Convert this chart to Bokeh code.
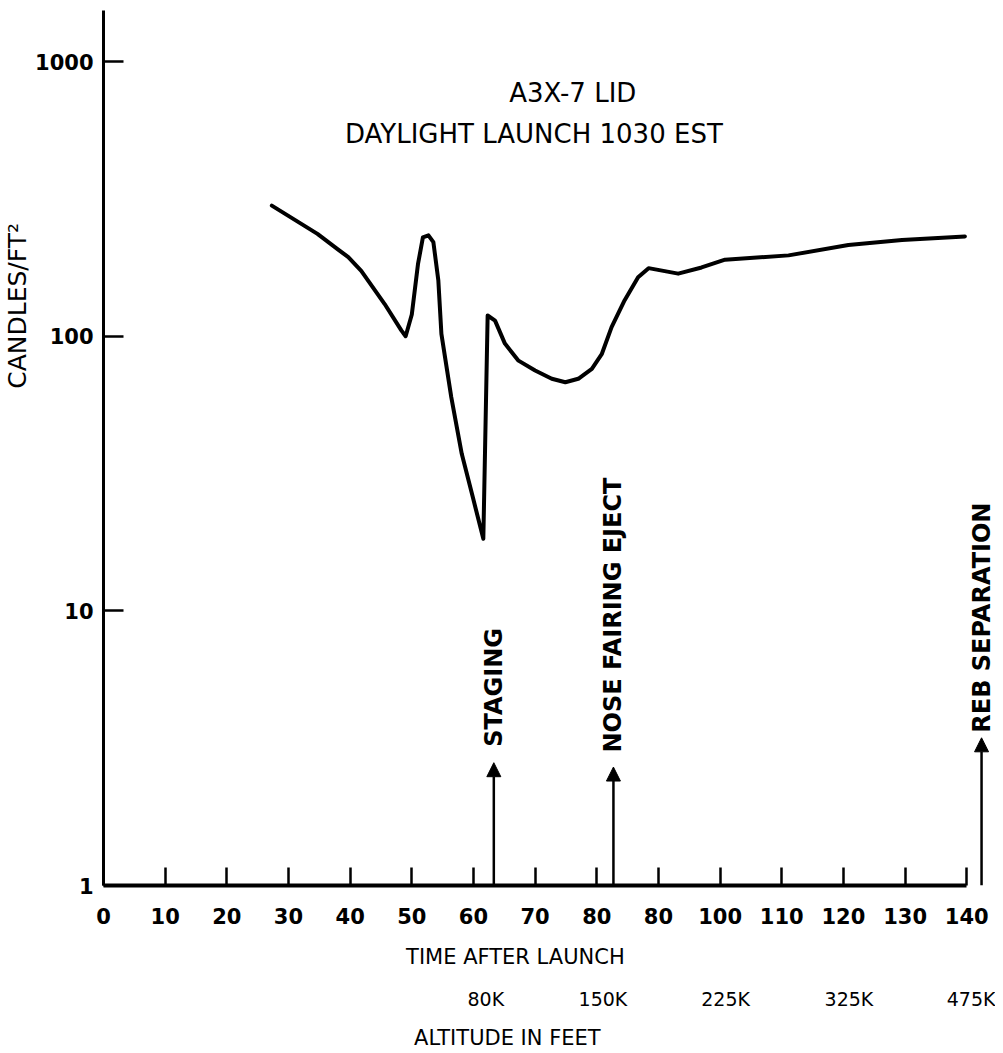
import math
from bokeh.plotting import figure
from bokeh.models import (LinearAxis, LogAxis, FixedTicker, Range1d, Arrow, NormalHead,
                          ColumnDataSource, BasicTickFormatter)
from bokeh.core.properties import value
from bokeh.embed import file_html
from bokeh.resources import INLINE

# ---- data ----
time_s = [27.3, 34.7, 37.9, 39.7, 41.8, 45.6, 48.3, 49.0, 50.0, 51.0, 51.8, 52.7, 53.5,
          54.3, 54.8, 56.4, 58.1, 59.9, 61.6, 62.3, 63.5, 65.1, 67.3, 70.0, 72.7, 74.9,
          77.0, 79.2, 80.8, 82.4, 84.5, 86.7, 88.4, 93.2, 97.0, 100.8, 111.1, 120.8,
          129.5, 139.7]
candles = [299, 236, 208, 194, 173, 131, 105, 100, 120, 183, 229, 233, 220,
           160, 102, 60, 37.3, 25.9, 18.3, 119, 114, 94, 81.5, 75, 70, 68,
           70, 76, 86, 108, 135, 164, 177, 169, 178, 190, 197, 215,
           224, 231]

x_ticks = [0, 10, 20, 30, 40, 50, 60, 70, 80, 90, 100, 110, 120, 130, 140]
x_tick_labels = ["0", "10", "20", "30", "40", "50", "60", "70", "80", "80",
                 "100", "110", "120", "130", "140"]
y_ticks = [1, 10, 100, 1000]
y_tick_labels = ["1", "10", "100", "1000"]

alt_times = [62.0, 81.0, 100.9, 120.9, 140.7]
alt_labels = ["80K", "150K", "225K", "325K", "475K"]

events = ["STAGING", "NOSE FAIRING EJECT", "REB SEPARATION"]
event_time = [63.3, 82.7, 142.4]

title_lines = ["A3X-7 LID", "DAYLIGHT LAUNCH 1030 EST"]

# ---- placement (positions, not data) ----
arrow_tip = [2.8, 2.7, 3.45]
label_start = [3.2, 3.05, 3.6]
title_x = [76.1, 69.8]
title_y = [771, 547]

FONT = "DejaVu Sans"
INK = "#000000"

p = figure(frame_width=891, frame_height=875,
           x_range=Range1d(0, 144.5), y_range=Range1d(1, 1535),
           y_axis_type="log", output_backend="svg", toolbar_location=None,
           min_border_left=98, min_border_top=10, min_border_right=1, min_border_bottom=0)
p.grid.visible = False
p.outline_line_color = None
p.background_fill_color = "white"
p.border_fill_color = "white"

# main x axis
xa = p.xaxis[0]
xa.ticker = FixedTicker(ticks=x_ticks, minor_ticks=[])
xa.major_label_overrides = dict(zip(x_ticks, x_tick_labels))
xa.bounds = (0, 140)
xa.axis_line_width = 4
xa.axis_line_color = INK
xa.major_tick_in = 18
xa.major_tick_out = 0
xa.major_tick_line_width = 2.5
xa.major_tick_line_color = INK
xa.minor_tick_in = 0
xa.minor_tick_out = 0
xa.major_label_standoff = 22
xa.major_label_text_font = FONT
xa.major_label_text_font_style = "bold"
xa.major_label_text_font_size = "21px"
xa.major_label_text_color = INK

# main y axis
ya = p.yaxis[0]
ya.ticker = FixedTicker(ticks=y_ticks, minor_ticks=[])
ya.formatter = BasicTickFormatter(use_scientific=False)
ya.major_label_overrides = dict(zip(y_ticks, y_tick_labels))
ya.axis_line_width = 3
ya.axis_line_color = INK
ya.major_tick_in = 20
ya.major_tick_out = 0
ya.major_tick_line_width = 2.5
ya.major_tick_line_color = INK
ya.minor_tick_in = 0
ya.minor_tick_out = 0
ya.major_label_standoff = 10
ya.major_label_text_font = FONT
ya.major_label_text_font_style = "bold"
ya.major_label_text_font_size = "21px"
ya.major_label_text_color = INK


def text_axis(axis, ticks, labels, standoff, size, style="normal"):
    axis.ticker = FixedTicker(ticks=ticks, minor_ticks=[])
    axis.major_label_overrides = dict(zip(ticks, labels))
    axis.axis_line_color = None
    axis.major_tick_line_color = None
    axis.minor_tick_line_color = None
    axis.major_tick_in = 0
    axis.major_tick_out = 0
    axis.minor_tick_in = 0
    axis.minor_tick_out = 0
    axis.major_label_standoff = standoff
    axis.major_label_text_font = FONT
    axis.major_label_text_font_style = style
    axis.major_label_text_font_size = size
    axis.major_label_text_color = INK
    return axis


# y-axis title placed alongside the upper part of the axis
ylab = text_axis(LogAxis(), [129], ["CANDLES/FT\u00b2"], 0, "25px")
ylab.major_label_orientation = "parallel"
p.add_layout(ylab, "left")

# stacked texts below the x axis
p.add_layout(text_axis(LinearAxis(), [66.8], ["TIME AFTER LAUNCH"], 18, "21px"), "below")
p.add_layout(text_axis(LinearAxis(), alt_times, alt_labels, 16, "19px"), "below")
p.add_layout(text_axis(LinearAxis(), [65.5], ["ALTITUDE IN FEET"], 13, "21px"), "below")

# curve
p.line(time_s, candles, line_width=4, line_color=INK, line_join="round", line_cap="round")

# event arrows
arrow_src = ColumnDataSource(dict(x=event_time, y0=[y_ticks[0]] * len(event_time), y1=arrow_tip))
p.add_layout(Arrow(end=NormalHead(size=14, fill_color=INK, line_color=INK, line_width=1),
                   x_start="x", y_start="y0", x_end="x", y_end="y1",
                   source=arrow_src, line_width=2.5, line_color=INK))
p.text(x=event_time, y=label_start, text=events, angle=math.pi / 2,
       text_align="left", text_baseline="middle", text_font=value(FONT),
       text_font_style="bold", text_font_size="24px", text_color=INK)

# titles
p.text(x=title_x, y=title_y, text=title_lines, text_align="center", text_baseline="middle",
       text_font=value(FONT), text_font_size="26px", text_color=INK)

open("out.html", "w").write(file_html(p, INLINE))
